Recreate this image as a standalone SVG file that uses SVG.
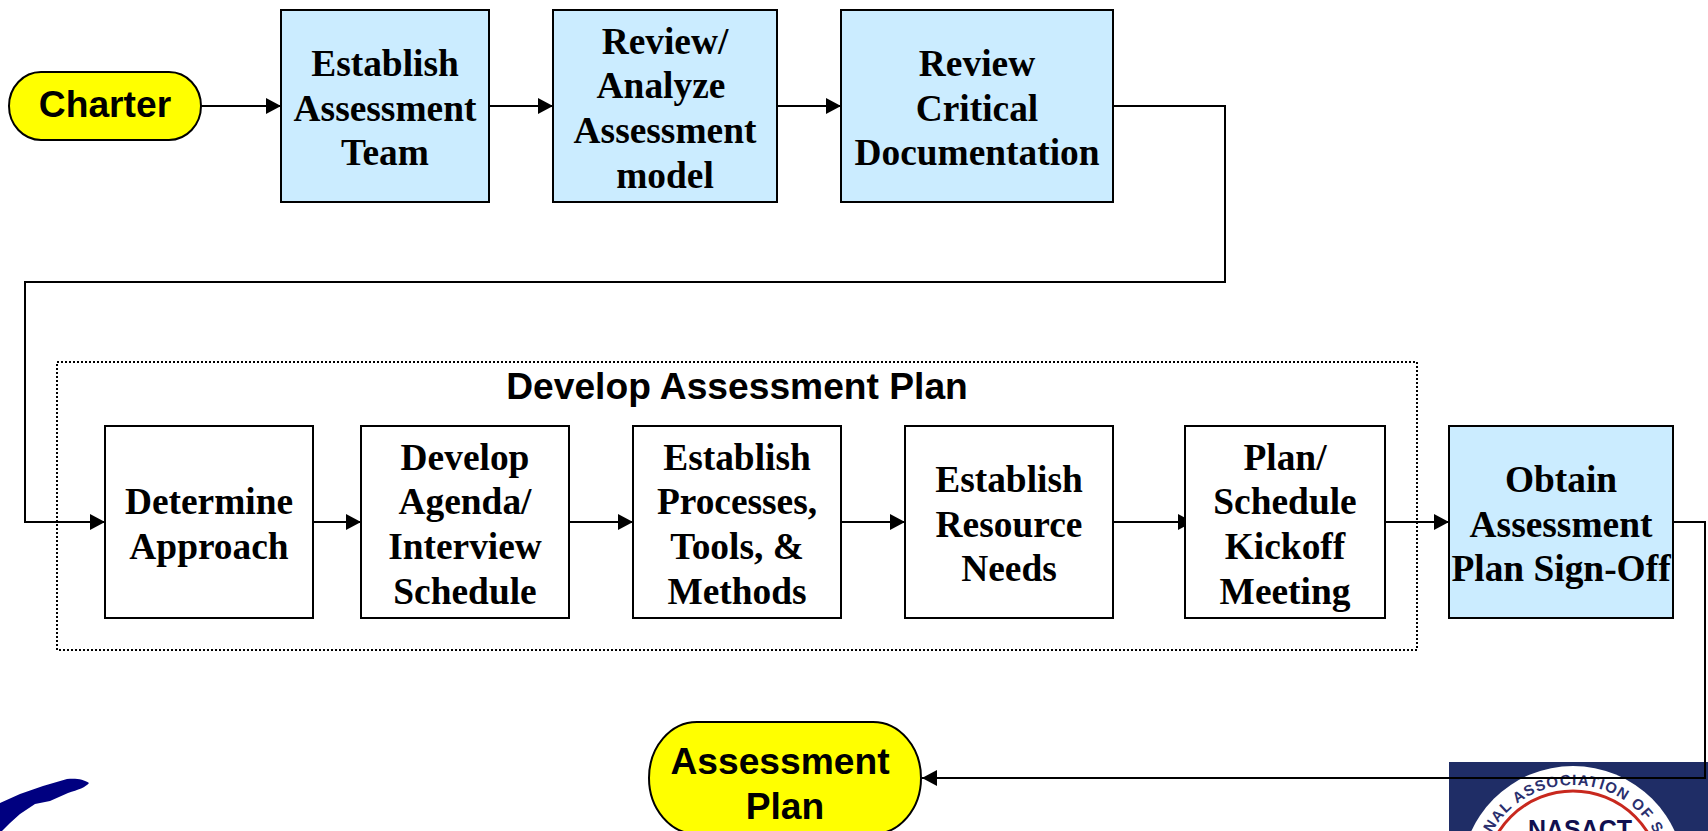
<svg xmlns="http://www.w3.org/2000/svg" width="1708" height="831" viewBox="0 0 1708 831">
<style>
.b{stroke:#000;stroke-width:2;fill:#fff}
.c{fill:#cbecff}
.y{fill:#ff0;stroke:#000;stroke-width:2}
.s{font-family:"Liberation Serif","Times New Roman",serif;font-weight:700;font-size:37.4px;text-anchor:middle;fill:#000}
.a{font-family:"Liberation Sans",Arial,sans-serif;font-weight:700;font-size:37.2px;text-anchor:middle;fill:#000}
.l{fill:none;stroke:#000;stroke-width:2}
</style>
<defs>
<marker id="ah" markerUnits="userSpaceOnUse" markerWidth="16" markerHeight="16" refX="15" refY="8" orient="auto"><path d="M0 0L15 8L0 16Z" fill="#000"/></marker>
<path id="ring" d="M1480 878A93 93 0 0 1 1666 878"/>
</defs>
<g id="logo-left"><path d="M0 803L20 794L43 786L67 779C75 778 84 779 89 783C86 787 78 790 68 793L50 801L35 804L20 814L10 823L2 831H0Z" fill="#000080"/></g>
<g id="logo-right">
<rect x="1449" y="762" width="259" height="69" fill="#1f2d66"/>
<circle cx="1573" cy="878" r="112" fill="#fff"/>
<text font-family="Liberation Sans,sans-serif" font-weight="700" font-size="15" fill="#2a2f6e" letter-spacing="1.2"><textPath href="#ring" startOffset="49%" text-anchor="middle">IONAL ASSOCIATION OF ST</textPath></text>
<circle cx="1573" cy="879" r="88" fill="none" stroke="#c8281e" stroke-width="3"/>
<text x="1580" y="838" font-family="Liberation Sans,sans-serif" font-weight="700" font-size="25" text-anchor="middle" fill="#10104f">NASACT</text>
</g>
<g id="container"><rect x="57" y="362" width="1360" height="288" fill="none" stroke="#000" stroke-width="2" stroke-dasharray="2 2"/><text class="a" x="737" y="399">Develop Assessment Plan</text></g>
<g id="connectors">
<path class="l" d="M201 106H281" marker-end="url(#ah)"/>
<path class="l" d="M489 106H553" marker-end="url(#ah)"/>
<path class="l" d="M777 106H841" marker-end="url(#ah)"/>
<path class="l" d="M1113 106H1225V282H25V522H105" marker-end="url(#ah)"/>
<path class="l" d="M313 522H361" marker-end="url(#ah)"/>
<path class="l" d="M569 522H633" marker-end="url(#ah)"/>
<path class="l" d="M841 522H905" marker-end="url(#ah)"/>
<path class="l" d="M1113 522H1193" marker-end="url(#ah)"/>
<path class="l" d="M1385 522H1449" marker-end="url(#ah)"/>
<path class="l" d="M1673 522H1705V778H922" marker-end="url(#ah)"/>
</g>
<g id="charter"><rect class="y" x="9" y="72" width="192" height="68" rx="32" ry="34"/><text class="a" x="105" y="117">Charter</text></g>
<g id="n1"><rect class="b c" x="281" y="10" width="208" height="192"/><text class="s" x="385" y="76">Establish</text><text class="s" x="385" y="121">Assessment</text><text class="s" x="385" y="165">Team</text></g>
<g id="n2"><rect class="b c" x="553" y="10" width="224" height="192"/><text class="s" x="665" y="54">Review/</text><text class="s" x="661" y="98">Analyze</text><text class="s" x="665" y="143">Assessment</text><text class="s" x="665" y="188">model</text></g>
<g id="n3"><rect class="b c" x="841" y="10" width="272" height="192"/><text class="s" x="977" y="76">Review</text><text class="s" x="977" y="121">Critical</text><text class="s" x="977" y="165">Documentation</text></g>
<g id="n4"><rect class="b" x="105" y="426" width="208" height="192"/><text class="s" x="209" y="514">Determine</text><text class="s" x="209" y="559">Approach</text></g>
<g id="n5"><rect class="b" x="361" y="426" width="208" height="192"/><text class="s" x="465" y="470">Develop</text><text class="s" x="465" y="514">Agenda/</text><text class="s" x="465" y="559">Interview</text><text class="s" x="465" y="604">Schedule</text></g>
<g id="n6"><rect class="b" x="633" y="426" width="208" height="192"/><text class="s" x="737" y="470">Establish</text><text class="s" x="737" y="514">Processes,</text><text class="s" x="737" y="559">Tools, &amp;</text><text class="s" x="737" y="604">Methods</text></g>
<g id="n7"><rect class="b" x="905" y="426" width="208" height="192"/><text class="s" x="1009" y="492">Establish</text><text class="s" x="1009" y="537">Resource</text><text class="s" x="1009" y="581">Needs</text></g>
<g id="n8"><rect class="b" x="1185" y="426" width="200" height="192"/><text class="s" x="1285" y="470">Plan/</text><text class="s" x="1285" y="514">Schedule</text><text class="s" x="1285" y="559">Kickoff</text><text class="s" x="1285" y="604">Meeting</text></g>
<g id="n9"><rect class="b c" x="1449" y="426" width="224" height="192"/><text class="s" x="1561" y="492">Obtain</text><text class="s" x="1561" y="537">Assessment</text><text class="s" x="1561" y="581">Plan Sign-Off</text></g>
<g id="plan"><rect class="y" x="649" y="722" width="272" height="112" rx="48" ry="56"/><text class="a" x="780" y="774">Assessment</text><text class="a" x="785" y="819">Plan</text></g>
</svg>
